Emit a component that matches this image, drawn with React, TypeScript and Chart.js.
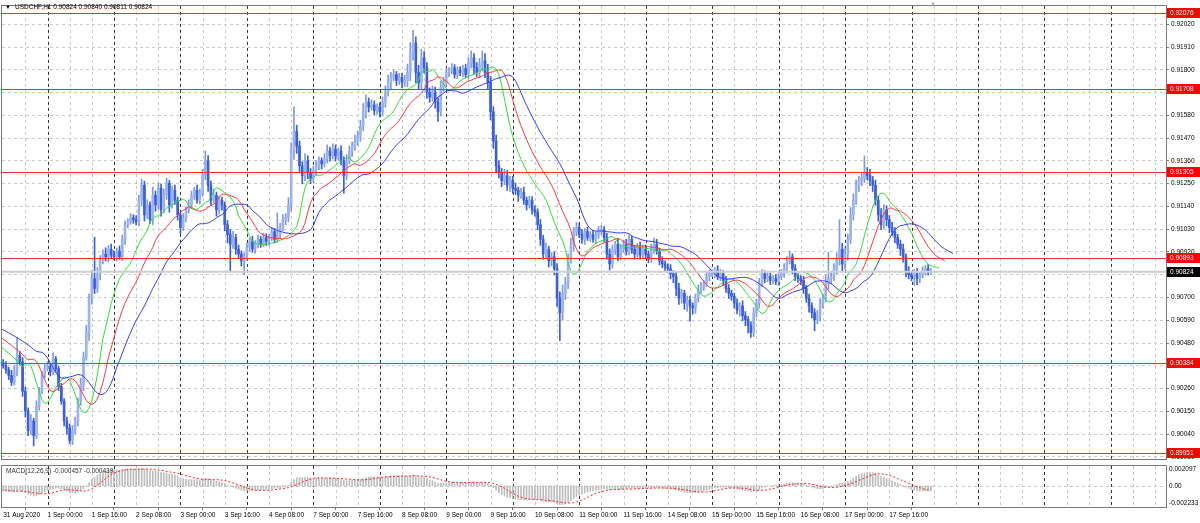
import { useEffect, useRef } from "react";
import { Chart, registerables } from "chart.js";
Chart.register(...registerables);

const FONT = "'Liberation Sans', Arial, sans-serif";
const SYMBOL = "USDCHF,H1";
const PRICE_BASE = 0.9;
const POINT = 0.00001;

// closes before the visible window (used only for indicator warm-up), in points above 0.90000
const preCloses = [620, 600, 610, 590, 575, 585, 560, 545, 555, 530, 540, 520, 505, 515, 490, 470, 480, 455, 440, 420, 430, 405, 395, 385];

// hourly closes, 31 Aug 08:00 .. 18 Sep 07:00, points above 0.90000
const closes = [
  370, 351, 323, 290, 341, 422, 389, 247,
  152, 57, 104, 33, 176, 247, 328, 356,
  365, 341, 403, 356, 270, 199, 104, 69,
  9, 57, 104, 199, 280, 412, 531, 697,
  791, 744, 815, 877, 910, 896, 933, 905,
  896, 924, 896, 981, 1052, 1066, 1085, 1076,
  1066, 1170, 1242, 1099, 1147, 1076, 1194, 1147,
  1228, 1123, 1194, 1251, 1147, 1218, 1170, 1099,
  1038, 1085, 1123, 1147, 1194, 1218, 1170, 1204,
  1289, 1360, 1242, 1170, 1194, 1123, 1170, 1147,
  1052, 1004, 957, 990, 933, 910, 877, 896,
  943, 971, 933, 957, 981, 957, 990, 971,
  990, 1018, 981, 1004, 1038, 1076, 1085, 1147,
  1407, 1502, 1431, 1336, 1289, 1360, 1303, 1275,
  1313, 1336, 1360, 1346, 1370, 1407, 1384, 1417,
  1384, 1407, 1360, 1289, 1360, 1407, 1431, 1455,
  1479, 1526, 1597, 1644, 1621, 1630, 1602, 1621,
  1597, 1644, 1692, 1739, 1763, 1777, 1749, 1763,
  1739, 1749, 1787, 1881, 1929, 1787, 1739, 1858,
  1810, 1692, 1668, 1692, 1644, 1597, 1716, 1739,
  1787, 1796, 1810, 1777, 1796, 1787, 1806, 1777,
  1834, 1858, 1810, 1787, 1825, 1843, 1787, 1739,
  1597, 1455, 1336, 1303, 1265, 1289, 1242, 1265,
  1228, 1218, 1194, 1208, 1170, 1147, 1170, 1123,
  1113, 1052, 981, 910, 933, 877, 896, 839,
  697, 626, 720, 768, 886, 957, 1018, 1038,
  1004, 981, 1018, 990, 1004, 981, 1000, 1018,
  1028, 990, 910, 862, 933, 957, 896, 933,
  957, 924, 981, 933, 910, 943, 905, 933,
  910, 886, 933, 957, 924, 877, 862, 848,
  839, 815, 801, 744, 697, 720, 673, 687,
  659, 649, 697, 735, 754, 768, 801, 815,
  815, 829, 801, 815, 782, 744, 720, 706,
  673, 640, 659, 612, 593, 564, 531, 626,
  673, 768, 815, 791, 801, 782, 791, 777,
  801, 815, 839, 877, 896, 839, 801, 791,
  782, 744, 697, 659, 626, 593, 612, 673,
  697, 768, 791, 801, 839, 886, 933, 862,
  910, 981, 1099, 1170, 1242, 1265, 1275, 1303,
  1289, 1265, 1242, 1170, 1099, 1052, 1123, 1076,
  1038, 1018, 990, 957, 933, 896, 829, 810,
  801, 815, 791, 810, 829, 839, 824, 824,
];

// upper wick above the body, points
const wickUp = [
  15, 20, 12, 25, 30, 85, 18, 20,
  20, 15, 30, 12, 25, 18, 15, 20,
  25, 15, 30, 12, 10, 15, 12, 18,
  20, 25, 18, 15, 30, 25, 35, 20,
  40, 200, 30, 25, 20, 30, 18, 25,
  20, 15, 25, 20, 18, 15, 20, 15,
  20, 25, 30, 20, 25, 15, 40, 20,
  25, 20, 30, 25, 15, 20, 25, 15,
  15, 20, 15, 25, 20, 15, 25, 20,
  30, 47, 25, 20, 30, 15, 20, 15,
  15, 20, 25, 30, 15, 20, 15, 20,
  20, 15, 25, 18, 20, 15, 20, 18,
  15, 20, 15, 104, 20, 25, 20, 35,
  40, 119, 30, 25, 20, 35, 25, 20,
  20, 25, 20, 15, 25, 30, 20, 25,
  20, 15, 25, 20, 30, 25, 20, 30,
  25, 30, 40, 35, 20, 25, 20, 15,
  20, 25, 30, 35, 25, 20, 15, 20,
  20, 25, 40, 50, 61, 30, 35, 40,
  30, 25, 20, 30, 25, 20, 30, 25,
  20, 15, 20, 15, 18, 20, 15, 20,
  25, 33, 20, 25, 30, 48, 35, 40,
  30, 25, 30, 25, 20, 30, 25, 20,
  20, 25, 15, 20, 25, 15, 20, 18,
  20, 15, 25, 20, 30, 15, 20, 25,
  25, 30, 40, 30, 25, 30, 20, 25,
  20, 25, 15, 20, 15, 20, 18, 25,
  20, 15, 20, 25, 20, 15, 25, 20,
  20, 25, 20, 15, 20, 18, 25, 20,
  20, 15, 25, 30, 24, 15, 20, 15,
  15, 20, 15, 20, 25, 20, 15, 20,
  20, 15, 20, 25, 20, 15, 20, 18,
  20, 15, 25, 20, 15, 20, 18, 15,
  15, 20, 15, 25, 20, 15, 20, 25,
  20, 25, 20, 15, 20, 18, 15, 20,
  15, 20, 25, 20, 28, 15, 20, 15,
  15, 20, 15, 20, 15, 20, 25, 20,
  20, 40, 128, 20, 25, 30, 143, 30,
  30, 25, 35, 30, 25, 20, 30, 81,
  25, 30, 20, 25, 20, 30, 25, 20,
  20, 25, 20, 15, 20, 25, 15, 20,
  15, 20, 25, 15, 20, 15, 20, 16,
];

// lower wick below the body, points
const wickDown = [
  12, 18, 20, 15, 12, 20, 15, 25,
  30, 25, 20, 50, 15, 20, 12, 18,
  12, 20, 15, 18, 20, 15, 25, 30,
  15, 20, 15, 25, 20, 30, 15, 40,
  30, 25, 20, 30, 15, 20, 25, 15,
  15, 20, 12, 18, 25, 15, 12, 18,
  15, 20, 25, 30, 18, 20, 25, 30,
  20, 30, 15, 20, 35, 15, 20, 25,
  30, 15, 20, 15, 18, 20, 15, 18,
  15, 20, 30, 25, 15, 30, 20, 25,
  30, 40, 132, 20, 25, 20, 25, 67,
  15, 20, 15, 20, 18, 15, 12, 20,
  20, 15, 18, 15, 20, 15, 25, 20,
  30, 40, 35, 30, 40, 25, 30, 25,
  15, 20, 18, 25, 15, 20, 25, 15,
  25, 20, 20, 86, 20, 15, 25, 20,
  20, 25, 20, 30, 25, 15, 20, 18,
  25, 20, 25, 20, 30, 15, 25, 20,
  25, 20, 30, 40, 35, 50, 30, 35,
  25, 30, 25, 20, 30, 47, 20, 25,
  15, 20, 15, 18, 20, 15, 20, 15,
  20, 25, 30, 20, 25, 30, 25, 30,
  40, 35, 30, 25, 30, 20, 25, 30,
  25, 20, 30, 15, 20, 25, 15, 20,
  20, 25, 30, 25, 20, 30, 25, 30,
  40, 134, 35, 30, 25, 20, 30, 20,
  15, 20, 25, 15, 20, 15, 20, 15,
  15, 20, 25, 30, 20, 25, 20, 15,
  15, 20, 18, 20, 25, 15, 20, 18,
  20, 18, 15, 20, 15, 20, 18, 20,
  20, 25, 30, 35, 30, 25, 30, 40,
  73, 30, 25, 20, 15, 20, 15, 20,
  15, 20, 15, 20, 25, 20, 25, 20,
  25, 20, 30, 25, 30, 35, 24, 20,
  20, 25, 15, 20, 15, 20, 18, 15,
  20, 15, 18, 20, 15, 25, 20, 18,
  20, 25, 20, 30, 25, 54, 20, 25,
  25, 20, 30, 25, 20, 25, 30, 40,
  25, 30, 20, 25, 20, 30, 25, 20,
  20, 25, 30, 25, 30, 25, 20, 30,
  25, 20, 25, 20, 30, 25, 30, 20,
  20, 43, 30, 20, 15, 20, 15, 13,
];

const timeLabelBars = [0, 16, 32, 48, 64, 80, 96, 112, 128, 144, 160, 176, 192, 208, 224, 240, 256, 272, 288, 304, 320];
const timeLabels = [
  "31 Aug 2020", "1 Sep 00:00", "1 Sep 16:00", "2 Sep 08:00", "3 Sep 00:00", "3 Sep 16:00", "4 Sep 08:00",
  "7 Sep 00:00", "7 Sep 16:00", "8 Sep 08:00", "9 Sep 00:00", "9 Sep 16:00", "10 Sep 08:00", "11 Sep 00:00",
  "11 Sep 16:00", "14 Sep 08:00", "15 Sep 00:00", "15 Sep 16:00", "16 Sep 08:00", "17 Sep 00:00", "17 Sep 16:00",
];
const priceTicks = [
  0.9202, 0.9191, 0.918, 0.9169, 0.9158, 0.9147, 0.9136, 0.9125, 0.9114, 0.9103,
  0.9092, 0.9081, 0.907, 0.9059, 0.9048, 0.9037, 0.9026, 0.9015, 0.9004, 0.8993,
];
const levelPrices = [0.92076, 0.91708, 0.91305, 0.90893, 0.90384, 0.89951];
const bidPrice = 0.90824;
const macdTitle = "MACD(12,26,9) -0.000457 -0.000439";
const macdTicks = [0.002097, 0, -0.002233];
const macdTickLabels = ["0.002097", "0.00", "-0.002233"];

const X_MIN = -0.433;
const X_MAX = 419.9;
const Y_MIN = 0.899192;
const Y_MAX = 0.921086;

const BULL = "#9db3f0";
const BULL_WICK = "#7e99ea";
const BEAR = "#3a5fdb";

const toPrice = (v: number) => PRICE_BASE + v * POINT;

function smma(src: number[], n: number): (number | null)[] {
  const out: (number | null)[] = [];
  let prev = 0;
  for (let i = 0; i < src.length; i++) {
    if (i < n - 1) { out.push(null); continue; }
    if (i === n - 1) {
      let s = 0;
      for (let k = 0; k < n; k++) s += src[k];
      prev = s / n;
    } else prev = (prev * (n - 1) + src[i]) / n;
    out.push(prev);
  }
  return out;
}
function ema(src: number[], n: number): number[] {
  const k = 2 / (n + 1);
  const out: number[] = [];
  src.forEach((v, i) => out.push(i === 0 ? v : out[i - 1] + k * (v - out[i - 1])));
  return out;
}

function drawVGrid(chart: any) {
  const { ctx, chartArea } = chart;
  const xs = chart.scales.x;
  ctx.save();
  ctx.lineWidth = 1;
  ctx.setLineDash([3, 3]);
  for (let i = 8; i <= X_MAX; i += 8) {
    const px = Math.round(xs.getPixelForValue(i)) + 0.5;
    if (px < chartArea.left || px > chartArea.right) continue;
    ctx.strokeStyle = (i - 16) % 24 === 0 ? "#333333" : "#c8c8c8";
    ctx.beginPath();
    ctx.moveTo(px, chartArea.top);
    ctx.lineTo(px, chartArea.bottom);
    ctx.stroke();
  }
  ctx.restore();
}

function drawFrame(chart: any) {
  const { ctx, chartArea } = chart;
  ctx.save();
  ctx.strokeStyle = "#7a7a7a";
  ctx.lineWidth = 1;
  ctx.strokeRect(Math.round(chartArea.left) - 0.5, Math.round(chartArea.top) - 0.5,
    Math.round(chartArea.right - chartArea.left) + 1, Math.round(chartArea.bottom - chartArea.top) + 1);
  ctx.restore();
}

export default function App() {
  const mainRef = useRef<HTMLCanvasElement>(null);
  const macdRef = useRef<HTMLCanvasElement>(null);

  useEffect(() => {
    const n = closes.length;
    const opens: number[] = [];
    const highs: number[] = [];
    const lows: number[] = [];
    for (let i = 0; i < n; i++) {
      const o = i === 0 ? preCloses[preCloses.length - 1] : closes[i - 1];
      const c = closes[i];
      opens.push(o);
      highs.push(Math.max(o, c) + wickUp[i]);
      lows.push(Math.min(o, c) - wickDown[i]);
    }
    const idx = closes.map((_, i) => i);
    const isBull = idx.map((i) => closes[i] >= opens[i]);

    const off = preCloses.length;
    const medians = [...preCloses, ...idx.map((i) => (highs[i] + lows[i]) / 2)];
    const lineFrom = (vals: (number | null)[], shift: number) =>
      vals.map((v, j) => (v == null ? null : { x: j - off + shift, y: toPrice(v) })).filter((p) => p !== null);
    const jaw = lineFrom(smma(medians, 13), 8);
    const teeth = lineFrom(smma(medians, 8), 5);
    const lips = lineFrom(smma(medians, 5), 3);

    const allCloses = [...preCloses, ...closes].map(toPrice);
    const e12 = ema(allCloses, 12);
    const e26 = ema(allCloses, 26);
    const macd = allCloses.map((_, j) => e12[j] - e26[j]);
    const signal = macd.map((_, j) => {
      if (j < 8) return null;
      let s = 0;
      for (let k = j - 8; k <= j; k++) s += macd[k];
      return s / 9;
    });

    const tickFont = { family: FONT, size: 6.5 };
    const last = n - 1;
    const titleText = `${SYMBOL} ${toPrice(opens[last]).toFixed(5)} ${toPrice(highs[last]).toFixed(5)} ${toPrice(lows[last]).toFixed(5)} ${toPrice(closes[last]).toFixed(5)}`;

    const mainPlugin = {
      id: "mt4main",
      beforeDatasetsDraw(chart: any) { drawVGrid(chart); },
      afterDatasetsDraw(chart: any) {
        const { ctx, chartArea } = chart;
        const ys = chart.scales.y;
        ctx.save();
        const by = ys.getPixelForValue(bidPrice);
        ctx.strokeStyle = "#cfcfcf";
        ctx.lineWidth = 2;
        ctx.beginPath();
        ctx.moveTo(chartArea.left, by);
        ctx.lineTo(chartArea.right, by);
        ctx.stroke();
        ctx.strokeStyle = "#f03030";
        ctx.lineWidth = 1;
        levelPrices.forEach((p) => {
          const py = Math.round(ys.getPixelForValue(p)) + 0.5;
          ctx.beginPath();
          ctx.moveTo(chartArea.left, py);
          ctx.lineTo(chartArea.right, py);
          ctx.stroke();
        });
        ctx.restore();
      },
      afterDraw(chart: any) {
        const { ctx, chartArea } = chart;
        const ys = chart.scales.y;
        drawFrame(chart);
        ctx.save();
        ctx.font = `6.5px ${FONT}`;
        ctx.textBaseline = "middle";
        const box = (p: number, bg: string) => {
          const py = Math.round(ys.getPixelForValue(p));
          ctx.fillStyle = bg;
          ctx.fillRect(chartArea.right + 1, py - 5, 33, 10);
          ctx.fillStyle = "#ffffff";
          ctx.textAlign = "left";
          ctx.fillText(p.toFixed(5), chartArea.right + 4, py);
        };
        levelPrices.forEach((p) => box(p, "#ff0000"));
        box(bidPrice, "#000000");
        ctx.fillStyle = "#000000";
        ctx.font = `6px ${FONT}`;
        ctx.fillText("▼", 5, 7.5);
        ctx.font = `6.5px ${FONT}`;
        ctx.fillText(titleText, 15, 7.5);
        ctx.fillStyle = "#b0b0b0";
        ctx.font = `6px ${FONT}`;
        ctx.fillText("▼", 930, 4);
        ctx.restore();
      },
    };

    const main = new Chart(mainRef.current!, {
      type: "bar",
      data: {
        datasets: [
          {
            type: "bar",
            data: idx.map((i) => ({ x: i, y: [toPrice(lows[i]), toPrice(highs[i])] })) as any,
            backgroundColor: idx.map((i) => (isBull[i] ? BULL_WICK : BEAR)),
            barThickness: 1,
            grouped: false,
            order: 3,
          } as any,
          {
            type: "bar",
            data: idx.map((i) => {
              let a = toPrice(opens[i]);
              let b = toPrice(closes[i]);
              if (a === b) { a -= POINT * 2; b += POINT * 2; }
              return { x: i, y: [a, b] };
            }) as any,
            backgroundColor: idx.map((i) => (isBull[i] ? BULL : BEAR)),
            barThickness: 2,
            grouped: false,
            order: 2,
          } as any,
          { type: "line", data: jaw as any, borderColor: "#3a3aff", borderWidth: 1, pointRadius: 0, order: 1 } as any,
          { type: "line", data: teeth as any, borderColor: "#ff3a3a", borderWidth: 1, pointRadius: 0, order: 1 } as any,
          { type: "line", data: lips as any, borderColor: "#2fe02f", borderWidth: 1, pointRadius: 0, order: 1 } as any,
        ],
      },
      options: {
        animation: false,
        responsive: false,
        maintainAspectRatio: false,
        layout: { padding: { left: 2, top: 2, right: 0, bottom: 1 } },
        plugins: { legend: { display: false }, tooltip: { enabled: false } },
        scales: {
          x: { type: "linear", display: false, min: X_MIN, max: X_MAX, offset: false },
          y: {
            type: "linear",
            position: "right",
            min: Y_MIN,
            max: Y_MAX,
            afterBuildTicks: (s: any) => { s.ticks = priceTicks.map((v) => ({ value: v })); },
            afterFit: (s: any) => { s.width = 34; },
            ticks: { font: tickFont, color: "#000", padding: 2, callback: (v: any) => Number(v).toFixed(5) },
            grid: { color: "#cccccc", tickLength: 3, tickColor: "#777" },
            border: { display: true, color: "#777", dash: [3, 3] },
          },
        },
      } as any,
      plugins: [mainPlugin],
    });

    const macdPlugin = {
      id: "mt4macd",
      beforeDatasetsDraw(chart: any) {
        drawVGrid(chart);
        const { ctx, chartArea } = chart;
        const y0 = Math.round(chart.scales.y.getPixelForValue(0)) + 0.5;
        ctx.save();
        ctx.strokeStyle = "#c8c8c8";
        ctx.setLineDash([3, 3]);
        ctx.beginPath();
        ctx.moveTo(chartArea.left, y0);
        ctx.lineTo(chartArea.right, y0);
        ctx.stroke();
        ctx.restore();
      },
      afterDraw(chart: any) {
        const { ctx, chartArea } = chart;
        const ys = chart.scales.y;
        drawFrame(chart);
        ctx.save();
        ctx.font = `6.5px ${FONT}`;
        ctx.fillStyle = "#000";
        ctx.textBaseline = "middle";
        ctx.textAlign = "left";
        macdTicks.forEach((v, k) => {
          let py = ys.getPixelForValue(v);
          py = Math.min(Math.max(py, chartArea.top + 3), chartArea.bottom - 4);
          ctx.fillText(macdTickLabels[k], chartArea.right + 3, py);
        });
        ctx.fillStyle = "#333";
        ctx.fillText(macdTitle, 6, chartArea.top + 5);
        ctx.restore();
      },
    };

    const macdChart = new Chart(macdRef.current!, {
      type: "bar",
      data: {
        datasets: [
          {
            type: "bar",
            data: macd.map((v, j) => ({ x: j - off, y: v })) as any,
            backgroundColor: "#bdbdbd",
            barThickness: 1,
            grouped: false,
            order: 2,
          } as any,
          {
            type: "line",
            data: signal.map((v, j) => (v == null ? null : { x: j - off, y: v })).filter((p) => p !== null) as any,
            borderColor: "#ff2020",
            borderWidth: 1,
            borderDash: [2, 2],
            pointRadius: 0,
            order: 1,
          } as any,
        ],
      },
      options: {
        animation: false,
        responsive: false,
        maintainAspectRatio: false,
        layout: { padding: { left: 2, top: 1, right: 0, bottom: 0 } },
        plugins: { legend: { display: false }, tooltip: { enabled: false } },
        scales: {
          x: {
            type: "linear",
            min: X_MIN,
            max: X_MAX,
            offset: false,
            afterBuildTicks: (s: any) => { s.ticks = timeLabelBars.map((v) => ({ value: v })); },
            afterFit: (s: any) => { s.height = 16; },
            ticks: {
              font: tickFont,
              color: "#000",
              align: "start",
              autoSkip: false,
              maxRotation: 0,
              minRotation: 0,
              padding: 1,
              callback: (v: any) => timeLabels[timeLabelBars.indexOf(Math.round(Number(v)))] ?? "",
            },
            grid: { drawOnChartArea: false, drawTicks: true, tickLength: 3, tickColor: "#777" },
            border: { display: false },
          },
          y: {
            type: "linear",
            position: "right",
            min: macdTicks[2],
            max: macdTicks[0],
            afterFit: (s: any) => { s.width = 34; },
            ticks: { display: false },
            grid: { display: false },
            border: { display: true, color: "#777" },
          },
        },
      } as any,
      plugins: [macdPlugin],
    });

    return () => {
      main.destroy();
      macdChart.destroy();
    };
  }, []);

  return (
    <div style={{ position: "fixed", left: 0, top: 0, width: 1200, height: 523, background: "#fff" }}>
      <canvas ref={mainRef} width={1200} height={465} style={{ position: "absolute", left: 0, top: 0, width: 1200, height: 465 }} />
      <canvas ref={macdRef} width={1200} height={58} style={{ position: "absolute", left: 0, top: 465, width: 1200, height: 58 }} />
    </div>
  );
}
